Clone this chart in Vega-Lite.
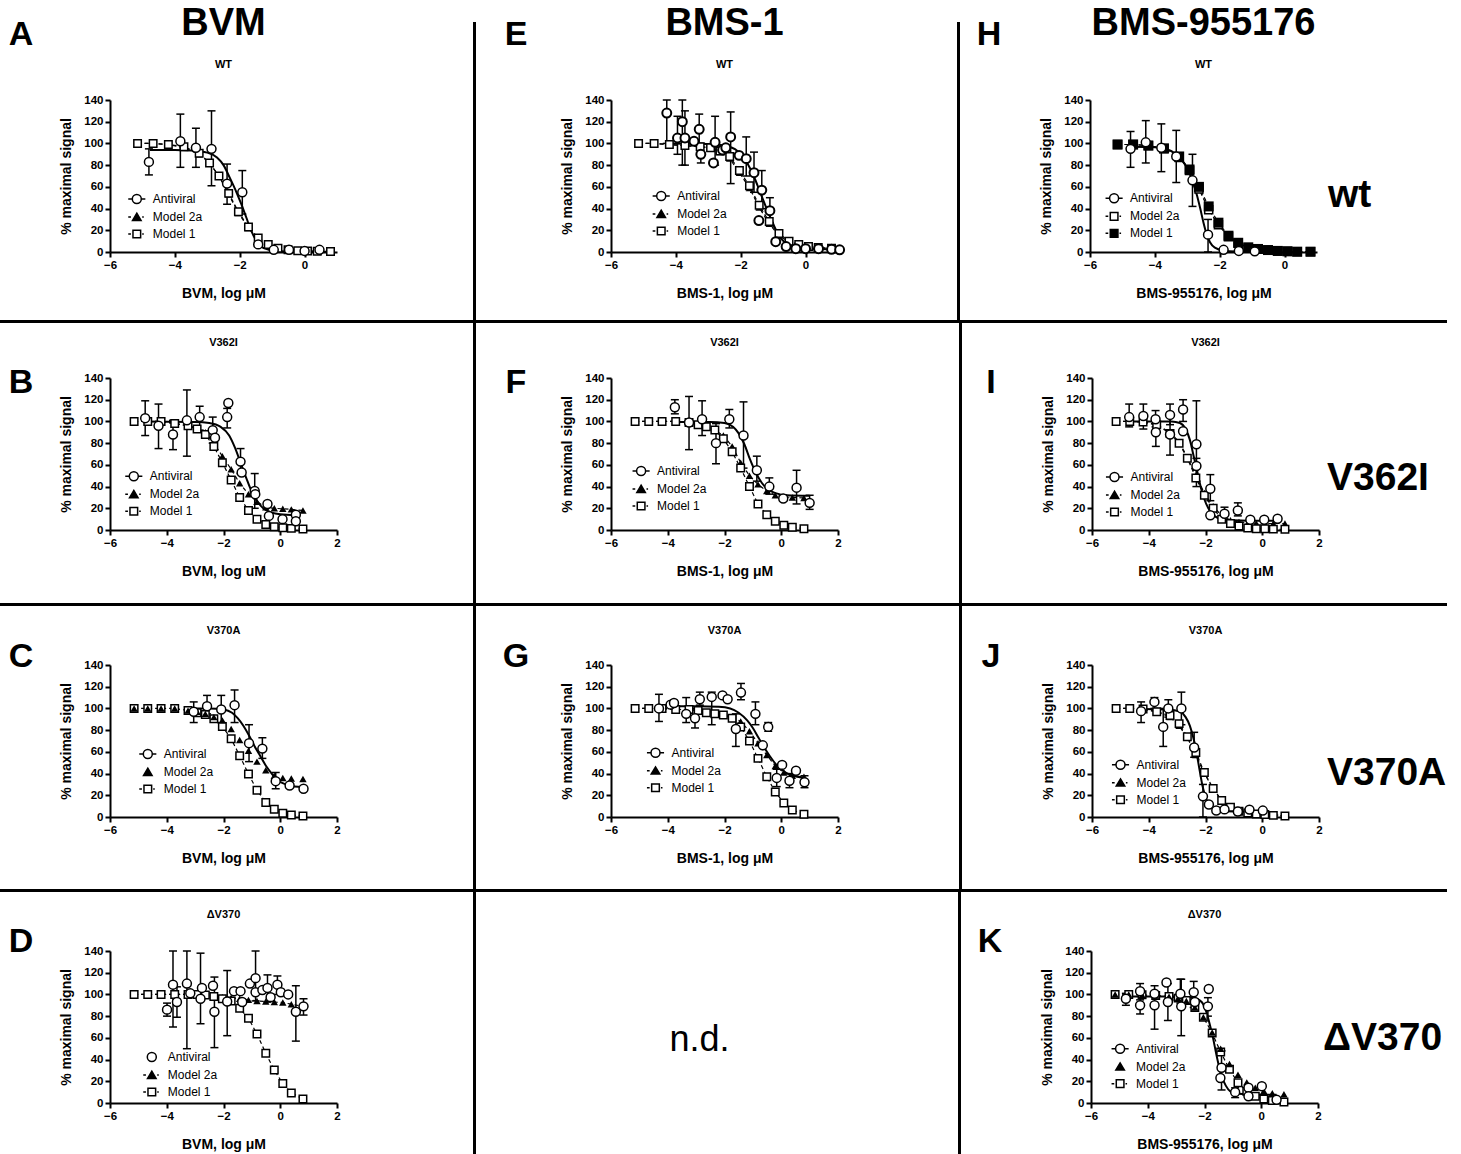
{
"padding":0,
"spacing":0,
"resolve":{"scale":{"shape":"independent","fill":"independent"},"legend":{"shape":"independent","fill":"independent"}},
"config":{"view":{"stroke":null},
"axis":{"domainColor":"black","domainWidth":2,"tickColor":"black","tickWidth":2,"tickSize":5,"labelFont":"Liberation Sans","labelFontSize":11.5,"labelFontWeight":"bold","labelColor":"black","labelFlush":false,"titleFont":"Liberation Sans","titleFontSize":14,"titleFontWeight":"bold","titleColor":"black","grid":false},
"axisX":{"titlePadding":16},"axisY":{"titlePadding":10}},
"vconcat":[
{"hconcat":[
 {"hconcat":[
  {"vconcat":[{"width":1,"height":15,"data":{"values":[{}]},"mark":{"type":"text","text":"","fontSize":1},"encoding":{},"view":{"fill":"white","stroke":null}},{"width":42,"height":40,"data":{"values":[{"t":"A"}]},"mark":{"type":"text","fontSize":34,"fontWeight":"bold","color":"black","font":"Liberation Sans"},"encoding":{"text":{"field":"t"}},"view":{"fill":"white","stroke":null}}],"spacing":0},
  {"vconcat":[{"width":1,"height":4,"data":{"values":[{}]},"mark":{"type":"text","text":"","fontSize":1},"encoding":{},"view":{"fill":"white","stroke":null}},
   {"width":227,"height":152,"title":{"text":"BVM","subtitle":"WT","frame":"group","fontSize":38,"fontWeight":"bold","font":"Liberation Sans","color":"black","subtitleFontSize":11,"subtitleFontWeight":"bold","subtitleFont":"Liberation Sans","subtitleColor":"black","subtitlePadding":16,"offset":24.5},
    "data":{"values":[
{"s":"M1","x":-5.15,"y":100},{"s":"M1","x":-4.67,"y":100},{"s":"M1","x":-4.2,"y":99},{"s":"M1","x":-3.72,"y":97},{"s":"M1","x":-3.25,"y":91},{"s":"M1","x":-2.93,"y":82},{"s":"M1","x":-2.64,"y":70},{"s":"M1","x":-2.34,"y":54},{"s":"M1","x":-2.04,"y":37},{"s":"M1","x":-1.73,"y":23},{"s":"M1","x":-1.43,"y":13},{"s":"M1","x":-1.12,"y":7},{"s":"M1","x":-0.82,"y":3.5},{"s":"M1","x":-0.51,"y":2},{"s":"M1","x":-0.21,"y":1.2},{"s":"M1","x":0.09,"y":1},{"s":"M1","x":0.39,"y":0.6},{"s":"M1","x":0.8,"y":0.5},
{"s":"M2","x":-5.15,"y":100},{"s":"M2","x":-4.67,"y":100},{"s":"M2","x":-4.2,"y":99},{"s":"M2","x":-3.72,"y":96},{"s":"M2","x":-3.25,"y":90},{"s":"M2","x":-2.93,"y":82},{"s":"M2","x":-2.64,"y":70},{"s":"M2","x":-2.34,"y":53},{"s":"M2","x":-2.04,"y":36},{"s":"M2","x":-1.73,"y":22},{"s":"M2","x":-1.43,"y":12},{"s":"M2","x":-1.12,"y":6},{"s":"M2","x":-0.82,"y":3.5},{"s":"M2","x":-0.51,"y":2},{"s":"M2","x":-0.21,"y":1.5},{"s":"M2","x":0.09,"y":1},{"s":"M2","x":0.39,"y":0.8},{"s":"M2","x":0.8,"y":0.5},
{"s":"AV","x":-4.8,"y":83,"lo":71,"hi":95},{"s":"AV","x":-3.83,"y":102,"lo":78,"hi":127},{"s":"AV","x":-3.35,"y":96,"lo":78,"hi":114},{"s":"AV","x":-2.87,"y":95,"lo":61,"hi":130},{"s":"AV","x":-2.39,"y":63,"lo":44,"hi":81},{"s":"AV","x":-1.92,"y":55,"lo":35,"hi":75},{"s":"AV","x":-1.43,"y":7},{"s":"AV","x":-0.95,"y":2},{"s":"AV","x":-0.48,"y":2},{"s":"AV","x":0,"y":1},{"s":"AV","x":0.46,"y":2},
{"s":"fit","x":-4.77,"y":94},{"s":"fit","x":-4,"y":94},{"s":"fit","x":-3.5,"y":93.5},{"s":"fit","x":-3,"y":91.5},{"s":"fit","x":-2.7,"y":87},{"s":"fit","x":-2.5,"y":80},{"s":"fit","x":-2.3,"y":68},{"s":"fit","x":-2.1,"y":55},{"s":"fit","x":-1.95,"y":44},{"s":"fit","x":-1.8,"y":32},{"s":"fit","x":-1.65,"y":20},{"s":"fit","x":-1.5,"y":11},{"s":"fit","x":-1.35,"y":5},{"s":"fit","x":-1.1,"y":2},{"s":"fit","x":-0.6,"y":0.5},{"s":"fit","x":0.8,"y":0.2}]},
    "encoding":{"x":{"field":"x","type":"quantitative","scale":{"domain":[-6,1],"nice":false},"axis":{"values":[-6,-4,-2,0],"title":"BVM, log μM"}},"y":{"field":"y","type":"quantitative","scale":{"domain":[0,140],"nice":false},"axis":{"values":[0,20,40,60,80,100,120,140],"title":"% maximal signal"}}},
    "layer":[
{"transform":[{"filter":"datum.s=='fit'"}],"mark":{"type":"line","color":"black","strokeWidth":2,"interpolate":"monotone"},"encoding":{}},
{"transform":[{"filter":"datum.s=='M2'"}],"mark":{"type":"line","color":"black","strokeWidth":1.2,"strokeDash":[4,3]},"encoding":{}},
{"transform":[{"filter":"datum.s=='M1'"}],"mark":{"type":"line","color":"black","strokeWidth":1.2,"strokeDash":[4,3]},"encoding":{}},
{"transform":[{"filter":"datum.s=='AV' && isValid(datum.lo)"}],"mark":{"type":"rule","color":"black","strokeWidth":1.5},"encoding":{"y":{"field":"lo","type":"quantitative","title":"% maximal signal"},"y2":{"field":"hi"}}},
{"transform":[{"filter":"datum.s=='AV' && isValid(datum.lo)"},{"fold":["lo","hi"],"as":["k","v"]}],"mark":{"type":"tick","orient":"horizontal","color":"black","size":8,"thickness":1.5,"opacity":1},"encoding":{"y":{"field":"v","type":"quantitative","title":"% maximal signal"}}},
{"transform":[{"filter":"datum.s=='M2'"}],"mark":{"type":"point","shape":"triangle-up","size":55,"filled":true,"color":"black","opacity":1},"encoding":{}},
{"transform":[{"filter":"datum.s=='M1'"}],"mark":{"type":"point","shape":"square","size":56,"filled":true,"fill":"white","stroke":"black","strokeWidth":1.5,"opacity":1},"encoding":{}},
{"transform":[{"filter":"datum.s=='AV'"}],"mark":{"type":"point","shape":"circle","size":80,"filled":true,"fill":"white","stroke":"black","strokeWidth":1.5,"opacity":1},"encoding":{}},
{"transform":[{"filter":"false"}],"mark":{"type":"point","filled":true,"stroke":"black","strokeWidth":1.5,"opacity":1},"encoding":{"shape":{"field":"s","type":"nominal","scale":{"domain":["Antiviral","Model 2a","Model 1"],"range":["M-1.9,0H-1M1,0H1.9M1,0A1,1,0,1,1,-1,0A1,1,0,1,1,1,0Z","M-1.9,0H-1.3M1.2,0H1.55M0,-0.85L0.95,0.75L-0.95,0.75Z","M-1.9,0H-1.3M1.2,0H1.55M-0.85,-0.85H0.85V0.85H-0.85Z"]},"legend":{"title":null,"orient":"none","legendX":20.8,"legendY":93,"symbolSize":81,"labelOffset":10,"rowPadding":3,"padding":0,"labelFontSize":12,"labelFont":"Liberation Sans","labelColor":"black"}},"fill":{"field":"s","type":"nominal","scale":{"domain":["Antiviral","Model 2a","Model 1"],"range":["white","black","white"]},"legend":{"title":null,"orient":"none","legendX":20.8,"legendY":93}}}}
    ]}
  ],"spacing":0,"resolve":{"scale":{"shape":"independent","fill":"independent"},"legend":{"shape":"independent","fill":"independent"}}}
 ],"spacing":17,"resolve":{"scale":{"shape":"independent","fill":"independent"},"legend":{"shape":"independent","fill":"independent"}}},
 {"hconcat":[
  {"vconcat":[{"width":1,"height":22,"data":{"values":[{}]},"mark":{"type":"text","text":"","fontSize":1},"encoding":{},"view":{"fill":"white","stroke":null}},{"width":3,"height":298,"data":{"values":[{}]},"mark":{"type":"text","text":"","fontSize":1},"encoding":{},"view":{"fill":"black","stroke":null}}],"spacing":0},
  {"hconcat":[
   {"hconcat":[
    {"vconcat":[{"width":1,"height":15,"data":{"values":[{}]},"mark":{"type":"text","text":"","fontSize":1},"encoding":{},"view":{"fill":"white","stroke":null}},{"width":30,"height":40,"data":{"values":[{"t":"E"}]},"mark":{"type":"text","fontSize":34,"fontWeight":"bold","color":"black","font":"Liberation Sans"},"encoding":{"text":{"field":"t"}},"view":{"fill":"white","stroke":null}}],"spacing":0},
    {"vconcat":[{"width":1,"height":4,"data":{"values":[{}]},"mark":{"type":"text","text":"","fontSize":1},"encoding":{},"view":{"fill":"white","stroke":null}},
     {"width":227,"height":152,"title":{"text":"BMS-1","subtitle":"WT","frame":"group","fontSize":38,"fontWeight":"bold","font":"Liberation Sans","color":"black","subtitleFontSize":11,"subtitleFontWeight":"bold","subtitleFont":"Liberation Sans","subtitleColor":"black","subtitlePadding":16,"offset":24.5},
      "data":{"values":[
{"s":"M1","x":-5.15,"y":100},{"s":"M1","x":-4.67,"y":100},{"s":"M1","x":-4.2,"y":99},{"s":"M1","x":-3.72,"y":98},{"s":"M1","x":-3.25,"y":97},{"s":"M1","x":-2.93,"y":96},{"s":"M1","x":-2.64,"y":93},{"s":"M1","x":-2.34,"y":88},{"s":"M1","x":-2.04,"y":75},{"s":"M1","x":-1.73,"y":61},{"s":"M1","x":-1.43,"y":43},{"s":"M1","x":-1.12,"y":28},{"s":"M1","x":-0.82,"y":17},{"s":"M1","x":-0.51,"y":10},{"s":"M1","x":-0.21,"y":7},{"s":"M1","x":0.09,"y":5},{"s":"M1","x":0.39,"y":4.2},{"s":"M1","x":0.8,"y":3.5},
{"s":"M2","x":-5.15,"y":100},{"s":"M2","x":-4.67,"y":100},{"s":"M2","x":-4.2,"y":99},{"s":"M2","x":-3.72,"y":98},{"s":"M2","x":-3.25,"y":97},{"s":"M2","x":-2.93,"y":96},{"s":"M2","x":-2.64,"y":92},{"s":"M2","x":-2.34,"y":86},{"s":"M2","x":-2.04,"y":73},{"s":"M2","x":-1.73,"y":59},{"s":"M2","x":-1.43,"y":41},{"s":"M2","x":-1.12,"y":26},{"s":"M2","x":-0.82,"y":15},{"s":"M2","x":-0.51,"y":9},{"s":"M2","x":-0.21,"y":6},{"s":"M2","x":0.09,"y":4.5},{"s":"M2","x":0.39,"y":3.5},{"s":"M2","x":0.8,"y":3},
{"s":"AV","x":-4.28,"y":128,"lo":100,"hi":140},{"s":"AV","x":-3.95,"y":105,"lo":90,"hi":125},{"s":"AV","x":-3.8,"y":120,"lo":80,"hi":140},{"s":"AV","x":-3.72,"y":105,"lo":80,"hi":130},{"s":"AV","x":-3.44,"y":102},{"s":"AV","x":-3.28,"y":113,"lo":100,"hi":127},{"s":"AV","x":-3.23,"y":90,"lo":82,"hi":100},{"s":"AV","x":-2.84,"y":82},{"s":"AV","x":-2.79,"y":101,"lo":80,"hi":125},{"s":"AV","x":-2.56,"y":94},{"s":"AV","x":-2.46,"y":96},{"s":"AV","x":-2.31,"y":106,"lo":63,"hi":129},{"s":"AV","x":-2.05,"y":89},{"s":"AV","x":-1.83,"y":86,"lo":70,"hi":106},{"s":"AV","x":-1.59,"y":73,"lo":55,"hi":92},{"s":"AV","x":-1.35,"y":57,"lo":40,"hi":75},{"s":"AV","x":-1.44,"y":29},{"s":"AV","x":-1.1,"y":38,"lo":27,"hi":50},{"s":"AV","x":-0.92,"y":9.5},{"s":"AV","x":-0.6,"y":5},{"s":"AV","x":-0.3,"y":3},{"s":"AV","x":0,"y":3},{"s":"AV","x":0.4,"y":3},{"s":"AV","x":0.8,"y":2.5},{"s":"AV","x":1.05,"y":2},
{"s":"fit","x":-4.28,"y":100},{"s":"fit","x":-3,"y":99.5},{"s":"fit","x":-2.5,"y":98},{"s":"fit","x":-2.1,"y":93},{"s":"fit","x":-1.8,"y":82},{"s":"fit","x":-1.6,"y":70},{"s":"fit","x":-1.4,"y":55},{"s":"fit","x":-1.2,"y":40},{"s":"fit","x":-1,"y":26},{"s":"fit","x":-0.8,"y":14},{"s":"fit","x":-0.6,"y":8},{"s":"fit","x":-0.3,"y":4.5},{"s":"fit","x":0,"y":3.3},{"s":"fit","x":1,"y":2.5}]},
      "encoding":{"x":{"field":"x","type":"quantitative","scale":{"domain":[-6,1],"nice":false},"axis":{"values":[-6,-4,-2,0],"title":"BMS-1, log μM"}},"y":{"field":"y","type":"quantitative","scale":{"domain":[0,140],"nice":false},"axis":{"values":[0,20,40,60,80,100,120,140],"title":"% maximal signal"}}},
      "layer":[
{"transform":[{"filter":"datum.s=='fit'"}],"mark":{"type":"line","color":"black","strokeWidth":2,"interpolate":"monotone"},"encoding":{}},
{"transform":[{"filter":"datum.s=='M2'"}],"mark":{"type":"line","color":"black","strokeWidth":1.2,"strokeDash":[4,3]},"encoding":{}},
{"transform":[{"filter":"datum.s=='M1'"}],"mark":{"type":"line","color":"black","strokeWidth":1.2,"strokeDash":[4,3]},"encoding":{}},
{"transform":[{"filter":"datum.s=='AV' && isValid(datum.lo)"}],"mark":{"type":"rule","color":"black","strokeWidth":1.5},"encoding":{"y":{"field":"lo","type":"quantitative","title":"% maximal signal"},"y2":{"field":"hi"}}},
{"transform":[{"filter":"datum.s=='AV' && isValid(datum.lo)"},{"fold":["lo","hi"],"as":["k","v"]}],"mark":{"type":"tick","orient":"horizontal","color":"black","size":8,"thickness":1.5,"opacity":1},"encoding":{"y":{"field":"v","type":"quantitative","title":"% maximal signal"}}},
{"transform":[{"filter":"datum.s=='M2'"}],"mark":{"type":"point","shape":"triangle-up","size":55,"filled":true,"color":"black","opacity":1},"encoding":{}},
{"transform":[{"filter":"datum.s=='M1'"}],"mark":{"type":"point","shape":"square","size":56,"filled":true,"fill":"white","stroke":"black","strokeWidth":1.5,"opacity":1},"encoding":{}},
{"transform":[{"filter":"datum.s=='AV'"}],"mark":{"type":"point","shape":"circle","size":80,"filled":true,"fill":"white","stroke":"black","strokeWidth":2,"opacity":1},"encoding":{}},
{"transform":[{"filter":"false"}],"mark":{"type":"point","filled":true,"stroke":"black","strokeWidth":1.5,"opacity":1},"encoding":{"shape":{"field":"s","type":"nominal","scale":{"domain":["Antiviral","Model 2a","Model 1"],"range":["M-1.9,0H-1M1,0H1.9M1,0A1,1,0,1,1,-1,0A1,1,0,1,1,1,0Z","M-1.9,0H-1.3M1.2,0H1.55M0,-0.85L0.95,0.75L-0.95,0.75Z","M-1.9,0H-1.3M1.2,0H1.55M-0.85,-0.85H0.85V0.85H-0.85Z"]},"legend":{"title":null,"orient":"none","legendX":44.2,"legendY":90,"symbolSize":81,"labelOffset":10,"rowPadding":3,"padding":0,"labelFontSize":12,"labelFont":"Liberation Sans","labelColor":"black"}},"fill":{"field":"s","type":"nominal","scale":{"domain":["Antiviral","Model 2a","Model 1"],"range":["white","black","white"]},"legend":{"title":null,"orient":"none","legendX":44.2,"legendY":90}}}}
      ]}
    ],"spacing":0,"resolve":{"scale":{"shape":"independent","fill":"independent"},"legend":{"shape":"independent","fill":"independent"}}}
   ],"spacing":29,"resolve":{"scale":{"shape":"independent","fill":"independent"},"legend":{"shape":"independent","fill":"independent"}}},
   {"hconcat":[
    {"vconcat":[{"width":1,"height":22,"data":{"values":[{}]},"mark":{"type":"text","text":"","fontSize":1},"encoding":{},"view":{"fill":"white","stroke":null}},{"width":3,"height":298,"data":{"values":[{}]},"mark":{"type":"text","text":"","fontSize":1},"encoding":{},"view":{"fill":"black","stroke":null}}],"spacing":0},
    {"hconcat":[
     {"vconcat":[{"width":1,"height":15,"data":{"values":[{}]},"mark":{"type":"text","text":"","fontSize":1},"encoding":{},"view":{"fill":"white","stroke":null}},{"width":30,"height":40,"data":{"values":[{"t":"H"}]},"mark":{"type":"text","fontSize":34,"fontWeight":"bold","color":"black","font":"Liberation Sans"},"encoding":{"text":{"field":"t"}},"view":{"fill":"white","stroke":null}}],"spacing":0},
     {"hconcat":[
      {"vconcat":[{"width":1,"height":4,"data":{"values":[{}]},"mark":{"type":"text","text":"","fontSize":1},"encoding":{},"view":{"fill":"white","stroke":null}},
       {"width":227,"height":152,"title":{"text":"BMS-955176","subtitle":"WT","frame":"group","fontSize":38,"fontWeight":"bold","font":"Liberation Sans","color":"black","subtitleFontSize":11,"subtitleFontWeight":"bold","subtitleFont":"Liberation Sans","subtitleColor":"black","subtitlePadding":16,"offset":24.5},
        "data":{"values":[
{"s":"M2","x":-5.15,"y":99},{"s":"M2","x":-4.67,"y":99},{"s":"M2","x":-4.2,"y":98},{"s":"M2","x":-3.72,"y":95},{"s":"M2","x":-3.25,"y":87},{"s":"M2","x":-2.93,"y":75},{"s":"M2","x":-2.64,"y":58},{"s":"M2","x":-2.34,"y":39},{"s":"M2","x":-2.04,"y":25},{"s":"M2","x":-1.73,"y":14},{"s":"M2","x":-1.43,"y":8},{"s":"M2","x":-1.12,"y":4},{"s":"M2","x":-0.82,"y":2.6},{"s":"M2","x":-0.51,"y":1.7},{"s":"M2","x":-0.21,"y":1},{"s":"M2","x":0.09,"y":0.6},{"s":"M2","x":0.39,"y":0.3},{"s":"M2","x":0.8,"y":0.3},
{"s":"M1","x":-5.15,"y":99},{"s":"M1","x":-4.67,"y":99},{"s":"M1","x":-4.2,"y":98},{"s":"M1","x":-3.72,"y":95.5},{"s":"M1","x":-3.25,"y":88},{"s":"M1","x":-2.93,"y":76},{"s":"M1","x":-2.64,"y":60},{"s":"M1","x":-2.34,"y":42},{"s":"M1","x":-2.04,"y":27},{"s":"M1","x":-1.73,"y":15},{"s":"M1","x":-1.43,"y":8.5},{"s":"M1","x":-1.12,"y":4.3},{"s":"M1","x":-0.82,"y":2.8},{"s":"M1","x":-0.51,"y":1.8},{"s":"M1","x":-0.21,"y":1},{"s":"M1","x":0.09,"y":0.6},{"s":"M1","x":0.39,"y":0.3},{"s":"M1","x":0.8,"y":0.3},
{"s":"AV","x":-4.75,"y":95,"lo":78,"hi":111},{"s":"AV","x":-4.28,"y":101,"lo":82,"hi":121},{"s":"AV","x":-3.8,"y":96,"lo":74,"hi":118},{"s":"AV","x":-3.34,"y":88,"lo":64,"hi":112},{"s":"AV","x":-2.84,"y":66,"lo":42,"hi":90},{"s":"AV","x":-2.36,"y":16,"lo":0,"hi":30},{"s":"AV","x":-1.88,"y":2},{"s":"AV","x":-1.41,"y":1},{"s":"AV","x":-0.92,"y":0.6},
{"s":"fit","x":-4.75,"y":97},{"s":"fit","x":-4,"y":96.5},{"s":"fit","x":-3.5,"y":93},{"s":"fit","x":-3.2,"y":86},{"s":"fit","x":-3,"y":77},{"s":"fit","x":-2.85,"y":66},{"s":"fit","x":-2.7,"y":52},{"s":"fit","x":-2.6,"y":40},{"s":"fit","x":-2.5,"y":27},{"s":"fit","x":-2.4,"y":16},{"s":"fit","x":-2.3,"y":9},{"s":"fit","x":-2.15,"y":4},{"s":"fit","x":-1.9,"y":1.5},{"s":"fit","x":-1.5,"y":0.5},{"s":"fit","x":-0.92,"y":0.3}]},
        "encoding":{"x":{"field":"x","type":"quantitative","scale":{"domain":[-6,1],"nice":false},"axis":{"values":[-6,-4,-2,0],"title":"BMS-955176, log μM"}},"y":{"field":"y","type":"quantitative","scale":{"domain":[0,140],"nice":false},"axis":{"values":[0,20,40,60,80,100,120,140],"title":"% maximal signal"}}},
        "layer":[
{"transform":[{"filter":"datum.s=='fit'"}],"mark":{"type":"line","color":"black","strokeWidth":2,"interpolate":"monotone"},"encoding":{}},
{"transform":[{"filter":"datum.s=='M2'"}],"mark":{"type":"line","color":"black","strokeWidth":1.2,"strokeDash":[4,3]},"encoding":{}},
{"transform":[{"filter":"datum.s=='M1'"}],"mark":{"type":"line","color":"black","strokeWidth":1.2,"strokeDash":[4,3]},"encoding":{}},
{"transform":[{"filter":"datum.s=='AV' && isValid(datum.lo)"}],"mark":{"type":"rule","color":"black","strokeWidth":1.5},"encoding":{"y":{"field":"lo","type":"quantitative","title":"% maximal signal"},"y2":{"field":"hi"}}},
{"transform":[{"filter":"datum.s=='AV' && isValid(datum.lo)"},{"fold":["lo","hi"],"as":["k","v"]}],"mark":{"type":"tick","orient":"horizontal","color":"black","size":8,"thickness":1.5,"opacity":1},"encoding":{"y":{"field":"v","type":"quantitative","title":"% maximal signal"}}},
{"transform":[{"filter":"datum.s=='M2'"}],"mark":{"type":"point","shape":"square","size":64,"filled":true,"fill":"white","stroke":"black","strokeWidth":1.5,"opacity":1},"encoding":{}},
{"transform":[{"filter":"datum.s=='M1'"}],"mark":{"type":"point","shape":"square","size":100,"filled":true,"color":"black","opacity":1},"encoding":{}},
{"transform":[{"filter":"datum.s=='AV'"}],"mark":{"type":"point","shape":"circle","size":80,"filled":true,"fill":"white","stroke":"black","strokeWidth":1.5,"opacity":1},"encoding":{}},
{"transform":[{"filter":"false"}],"mark":{"type":"point","filled":true,"stroke":"black","strokeWidth":1.5,"opacity":1},"encoding":{"shape":{"field":"s","type":"nominal","scale":{"domain":["Antiviral","Model 2a","Model 1"],"range":["M-1.9,0H-1M1,0H1.9M1,0A1,1,0,1,1,-1,0A1,1,0,1,1,1,0Z","M-1.9,0H-1.3M1.2,0H1.55M-0.85,-0.85H0.85V0.85H-0.85Z","M-1.9,0H-1.3M1.2,0H1.55M-0.85,-0.85H0.85V0.85H-0.85Z"]},"legend":{"title":null,"orient":"none","legendX":18.1,"legendY":92.3,"symbolSize":81,"labelOffset":10,"rowPadding":3,"padding":0,"labelFontSize":12,"labelFont":"Liberation Sans","labelColor":"black"}},"fill":{"field":"s","type":"nominal","scale":{"domain":["Antiviral","Model 2a","Model 1"],"range":["white","white","black"]},"legend":{"title":null,"orient":"none","legendX":18.1,"legendY":92.3}}}}
        ]}
      ],"spacing":0,"resolve":{"scale":{"shape":"independent","fill":"independent"},"legend":{"shape":"independent","fill":"independent"}}},
      {"vconcat":[{"width":1,"height":170,"data":{"values":[{}]},"mark":{"type":"text","text":"","fontSize":1},"encoding":{},"view":{"fill":"white","stroke":null}},
       {"width":2,"height":50,"data":{"values":[{"t":"wt"}]},"mark":{"type":"text","fontSize":39,"fontWeight":"bold","color":"black","align":"left","font":"Liberation Sans"},"encoding":{"text":{"field":"t"}},"view":{"fill":"white","stroke":null}}],"spacing":0}
     ],"spacing":9,"resolve":{"scale":{"shape":"independent","fill":"independent"},"legend":{"shape":"independent","fill":"independent"}}}
    ],"spacing":35,"resolve":{"scale":{"shape":"independent","fill":"independent"},"legend":{"shape":"independent","fill":"independent"}}}
   ],"spacing":14,"resolve":{"scale":{"shape":"independent","fill":"independent"},"legend":{"shape":"independent","fill":"independent"}}}
  ],"spacing":108,"resolve":{"scale":{"shape":"independent","fill":"independent"},"legend":{"shape":"independent","fill":"independent"}}}
 ],"spacing":25,"resolve":{"scale":{"shape":"independent","fill":"independent"},"legend":{"shape":"independent","fill":"independent"}}}
],"spacing":135,"resolve":{"scale":{"shape":"independent","fill":"independent"},"legend":{"shape":"independent","fill":"independent"}}},
{"width":1447,"height":3,"data":{"values":[{}]},"mark":{"type":"text","text":"","fontSize":1},"encoding":{},"view":{"fill":"black","stroke":null}},
{"hconcat":[
 {"hconcat":[
  {"vconcat":[{"width":1,"height":40,"data":{"values":[{}]},"mark":{"type":"text","text":"","fontSize":1},"encoding":{},"view":{"fill":"white","stroke":null}},{"width":42,"height":40,"data":{"values":[{"t":"B"}]},"mark":{"type":"text","fontSize":34,"fontWeight":"bold","color":"black","font":"Liberation Sans"},"encoding":{"text":{"field":"t"}},"view":{"fill":"white","stroke":null}}],"spacing":0},
  {"vconcat":[{"width":1,"height":14,"data":{"values":[{}]},"mark":{"type":"text","text":"","fontSize":1},"encoding":{},"view":{"fill":"white","stroke":null}},
   {"width":227,"height":152,"title":{"text":"V362I","frame":"group","fontSize":11,"fontWeight":"bold","font":"Liberation Sans","color":"black","offset":24},
    "data":{"values":[
{"s":"M1","x":-5.15,"y":100},{"s":"M1","x":-4.67,"y":100},{"s":"M1","x":-4.2,"y":100},{"s":"M1","x":-3.72,"y":98},{"s":"M1","x":-3.25,"y":96},{"s":"M1","x":-2.93,"y":93},{"s":"M1","x":-2.64,"y":88},{"s":"M1","x":-2.34,"y":77},{"s":"M1","x":-2.04,"y":62},{"s":"M1","x":-1.73,"y":46},{"s":"M1","x":-1.43,"y":30},{"s":"M1","x":-1.12,"y":18},{"s":"M1","x":-0.82,"y":10},{"s":"M1","x":-0.51,"y":5},{"s":"M1","x":-0.21,"y":3},{"s":"M1","x":0.09,"y":2},{"s":"M1","x":0.39,"y":1.5},{"s":"M1","x":0.8,"y":1},
{"s":"M2","x":-5.15,"y":100},{"s":"M2","x":-4.67,"y":100},{"s":"M2","x":-4.2,"y":100},{"s":"M2","x":-3.72,"y":98},{"s":"M2","x":-3.25,"y":96},{"s":"M2","x":-2.93,"y":94},{"s":"M2","x":-2.64,"y":90},{"s":"M2","x":-2.34,"y":80},{"s":"M2","x":-2.04,"y":68},{"s":"M2","x":-1.73,"y":56},{"s":"M2","x":-1.43,"y":43},{"s":"M2","x":-1.12,"y":33},{"s":"M2","x":-0.82,"y":26},{"s":"M2","x":-0.51,"y":21},{"s":"M2","x":-0.21,"y":20},{"s":"M2","x":0.09,"y":19.5},{"s":"M2","x":0.39,"y":19},{"s":"M2","x":0.8,"y":18},
{"s":"AV","x":-4.76,"y":103,"lo":87,"hi":119},{"s":"AV","x":-4.29,"y":96,"lo":75,"hi":116},{"s":"AV","x":-3.78,"y":88,"lo":74,"hi":101},{"s":"AV","x":-3.29,"y":101,"lo":68,"hi":129},{"s":"AV","x":-2.84,"y":104,"lo":92,"hi":114},{"s":"AV","x":-2.38,"y":92,"lo":80,"hi":104},{"s":"AV","x":-2.3,"y":85},{"s":"AV","x":-1.87,"y":104,"lo":94,"hi":112},{"s":"AV","x":-1.83,"y":117},{"s":"AV","x":-1.4,"y":63,"lo":52,"hi":75},{"s":"AV","x":-1.36,"y":53},{"s":"AV","x":-0.9,"y":36,"lo":20,"hi":52},{"s":"AV","x":-0.88,"y":33},{"s":"AV","x":-0.45,"y":24},{"s":"AV","x":-0.4,"y":13},{"s":"AV","x":0.08,"y":10},{"s":"AV","x":0.55,"y":14},{"s":"AV","x":0.55,"y":8},
{"s":"fit","x":-4.76,"y":100},{"s":"fit","x":-3,"y":99.5},{"s":"fit","x":-2.5,"y":98.5},{"s":"fit","x":-2.1,"y":95},{"s":"fit","x":-1.8,"y":87},{"s":"fit","x":-1.6,"y":76},{"s":"fit","x":-1.4,"y":62},{"s":"fit","x":-1.2,"y":48},{"s":"fit","x":-1,"y":35},{"s":"fit","x":-0.8,"y":26},{"s":"fit","x":-0.6,"y":20},{"s":"fit","x":-0.3,"y":16},{"s":"fit","x":0,"y":14.5},{"s":"fit","x":0.55,"y":13.7}]},
    "encoding":{"x":{"field":"x","type":"quantitative","scale":{"domain":[-6,2],"nice":false},"axis":{"values":[-6,-4,-2,0,2],"title":"BVM, log uM"}},"y":{"field":"y","type":"quantitative","scale":{"domain":[0,140],"nice":false},"axis":{"values":[0,20,40,60,80,100,120,140],"title":"% maximal signal"}}},
    "layer":[
{"transform":[{"filter":"datum.s=='fit'"}],"mark":{"type":"line","color":"black","strokeWidth":2,"interpolate":"monotone"},"encoding":{}},
{"transform":[{"filter":"datum.s=='M2'"}],"mark":{"type":"line","color":"black","strokeWidth":1.2,"strokeDash":[4,3]},"encoding":{}},
{"transform":[{"filter":"datum.s=='M1'"}],"mark":{"type":"line","color":"black","strokeWidth":1.2,"strokeDash":[4,3]},"encoding":{}},
{"transform":[{"filter":"datum.s=='AV' && isValid(datum.lo)"}],"mark":{"type":"rule","color":"black","strokeWidth":1.5},"encoding":{"y":{"field":"lo","type":"quantitative","title":"% maximal signal"},"y2":{"field":"hi"}}},
{"transform":[{"filter":"datum.s=='AV' && isValid(datum.lo)"},{"fold":["lo","hi"],"as":["k","v"]}],"mark":{"type":"tick","orient":"horizontal","color":"black","size":8,"thickness":1.5,"opacity":1},"encoding":{"y":{"field":"v","type":"quantitative","title":"% maximal signal"}}},
{"transform":[{"filter":"datum.s=='M2'"}],"mark":{"type":"point","shape":"triangle-up","size":55,"filled":true,"color":"black","opacity":1},"encoding":{}},
{"transform":[{"filter":"datum.s=='M1'"}],"mark":{"type":"point","shape":"square","size":56,"filled":true,"fill":"white","stroke":"black","strokeWidth":1.5,"opacity":1},"encoding":{}},
{"transform":[{"filter":"datum.s=='AV'"}],"mark":{"type":"point","shape":"circle","size":80,"filled":true,"fill":"white","stroke":"black","strokeWidth":1.5,"opacity":1},"encoding":{}},
{"transform":[{"filter":"false"}],"mark":{"type":"point","filled":true,"stroke":"black","strokeWidth":1.5,"opacity":1},"encoding":{"shape":{"field":"s","type":"nominal","scale":{"domain":["Antiviral","Model 2a","Model 1"],"range":["M-1.9,0H-1M1,0H1.9M1,0A1,1,0,1,1,-1,0A1,1,0,1,1,1,0Z","M-1.9,0H-1.3M1.2,0H1.55M0,-0.85L0.95,0.75L-0.95,0.75Z","M-1.9,0H-1.3M1.2,0H1.55M-0.85,-0.85H0.85V0.85H-0.85Z"]},"legend":{"title":null,"orient":"none","legendX":17.8,"legendY":92.3,"symbolSize":81,"labelOffset":10,"rowPadding":3,"padding":0,"labelFontSize":12,"labelFont":"Liberation Sans","labelColor":"black"}},"fill":{"field":"s","type":"nominal","scale":{"domain":["Antiviral","Model 2a","Model 1"],"range":["white","black","white"]},"legend":{"title":null,"orient":"none","legendX":17.8,"legendY":92.3}}}}
    ]}
  ],"spacing":0,"resolve":{"scale":{"shape":"independent","fill":"independent"},"legend":{"shape":"independent","fill":"independent"}}}
 ],"spacing":17,"resolve":{"scale":{"shape":"independent","fill":"independent"},"legend":{"shape":"independent","fill":"independent"}}},
 {"hconcat":[
  {"width":3,"height":280,"data":{"values":[{}]},"mark":{"type":"text","text":"","fontSize":1},"encoding":{},"view":{"fill":"black","stroke":null}},
  {"hconcat":[
   {"hconcat":[
    {"vconcat":[{"width":1,"height":40,"data":{"values":[{}]},"mark":{"type":"text","text":"","fontSize":1},"encoding":{},"view":{"fill":"white","stroke":null}},{"width":30,"height":40,"data":{"values":[{"t":"F"}]},"mark":{"type":"text","fontSize":34,"fontWeight":"bold","color":"black","font":"Liberation Sans"},"encoding":{"text":{"field":"t"}},"view":{"fill":"white","stroke":null}}],"spacing":0},
    {"vconcat":[{"width":1,"height":14,"data":{"values":[{}]},"mark":{"type":"text","text":"","fontSize":1},"encoding":{},"view":{"fill":"white","stroke":null}},
     {"width":227,"height":152,"title":{"text":"V362I","frame":"group","fontSize":11,"fontWeight":"bold","font":"Liberation Sans","color":"black","offset":24},
      "data":{"values":[
{"s":"M1","x":-5.15,"y":100},{"s":"M1","x":-4.67,"y":100},{"s":"M1","x":-4.2,"y":100},{"s":"M1","x":-3.72,"y":100},{"s":"M1","x":-3.25,"y":99},{"s":"M1","x":-2.93,"y":97},{"s":"M1","x":-2.64,"y":95},{"s":"M1","x":-2.34,"y":92},{"s":"M1","x":-2.04,"y":84},{"s":"M1","x":-1.73,"y":72},{"s":"M1","x":-1.43,"y":57},{"s":"M1","x":-1.12,"y":40},{"s":"M1","x":-0.82,"y":24},{"s":"M1","x":-0.51,"y":14},{"s":"M1","x":-0.21,"y":8},{"s":"M1","x":0.09,"y":4.3},{"s":"M1","x":0.39,"y":2.5},{"s":"M1","x":0.8,"y":1.2},
{"s":"M2","x":-5.15,"y":100},{"s":"M2","x":-4.67,"y":100},{"s":"M2","x":-4.2,"y":100},{"s":"M2","x":-3.72,"y":100},{"s":"M2","x":-3.25,"y":99},{"s":"M2","x":-2.93,"y":97.5},{"s":"M2","x":-2.64,"y":95},{"s":"M2","x":-2.34,"y":92},{"s":"M2","x":-2.04,"y":87},{"s":"M2","x":-1.73,"y":77},{"s":"M2","x":-1.43,"y":62},{"s":"M2","x":-1.12,"y":50},{"s":"M2","x":-0.82,"y":42},{"s":"M2","x":-0.51,"y":36},{"s":"M2","x":-0.21,"y":32},{"s":"M2","x":0.09,"y":30.5},{"s":"M2","x":0.39,"y":30},{"s":"M2","x":0.8,"y":29.5},
{"s":"AV","x":-3.75,"y":113,"lo":107,"hi":120},{"s":"AV","x":-3.25,"y":99,"lo":74,"hi":123},{"s":"AV","x":-2.79,"y":102,"lo":87,"hi":119},{"s":"AV","x":-2.3,"y":80,"lo":61,"hi":98},{"s":"AV","x":-1.83,"y":102,"lo":94,"hi":111},{"s":"AV","x":-1.33,"y":87,"lo":57,"hi":118},{"s":"AV","x":-0.86,"y":55,"lo":45,"hi":68},{"s":"AV","x":-0.42,"y":40,"lo":33,"hi":48},{"s":"AV","x":0.07,"y":29,"lo":27,"hi":32},{"s":"AV","x":0.54,"y":39,"lo":24,"hi":55},{"s":"AV","x":1,"y":25,"lo":19,"hi":32},
{"s":"fit","x":-3.75,"y":99.5},{"s":"fit","x":-2.5,"y":99.5},{"s":"fit","x":-2,"y":98.5},{"s":"fit","x":-1.7,"y":95},{"s":"fit","x":-1.5,"y":89},{"s":"fit","x":-1.3,"y":79},{"s":"fit","x":-1.1,"y":65},{"s":"fit","x":-0.9,"y":53},{"s":"fit","x":-0.7,"y":44},{"s":"fit","x":-0.5,"y":38},{"s":"fit","x":-0.2,"y":34},{"s":"fit","x":0.2,"y":32},{"s":"fit","x":1,"y":31.5}]},
      "encoding":{"x":{"field":"x","type":"quantitative","scale":{"domain":[-6,2],"nice":false},"axis":{"values":[-6,-4,-2,0,2],"title":"BMS-1, log μM"}},"y":{"field":"y","type":"quantitative","scale":{"domain":[0,140],"nice":false},"axis":{"values":[0,20,40,60,80,100,120,140],"title":"% maximal signal"}}},
      "layer":[
{"transform":[{"filter":"datum.s=='fit'"}],"mark":{"type":"line","color":"black","strokeWidth":2,"interpolate":"monotone"},"encoding":{}},
{"transform":[{"filter":"datum.s=='M2'"}],"mark":{"type":"line","color":"black","strokeWidth":1.2,"strokeDash":[4,3]},"encoding":{}},
{"transform":[{"filter":"datum.s=='M1'"}],"mark":{"type":"line","color":"black","strokeWidth":1.2,"strokeDash":[4,3]},"encoding":{}},
{"transform":[{"filter":"datum.s=='AV' && isValid(datum.lo)"}],"mark":{"type":"rule","color":"black","strokeWidth":1.5},"encoding":{"y":{"field":"lo","type":"quantitative","title":"% maximal signal"},"y2":{"field":"hi"}}},
{"transform":[{"filter":"datum.s=='AV' && isValid(datum.lo)"},{"fold":["lo","hi"],"as":["k","v"]}],"mark":{"type":"tick","orient":"horizontal","color":"black","size":8,"thickness":1.5,"opacity":1},"encoding":{"y":{"field":"v","type":"quantitative","title":"% maximal signal"}}},
{"transform":[{"filter":"datum.s=='M2'"}],"mark":{"type":"point","shape":"triangle-up","size":55,"filled":true,"color":"black","opacity":1},"encoding":{}},
{"transform":[{"filter":"datum.s=='M1'"}],"mark":{"type":"point","shape":"square","size":56,"filled":true,"fill":"white","stroke":"black","strokeWidth":1.5,"opacity":1},"encoding":{}},
{"transform":[{"filter":"datum.s=='AV'"}],"mark":{"type":"point","shape":"circle","size":80,"filled":true,"fill":"white","stroke":"black","strokeWidth":1.5,"opacity":1},"encoding":{}},
{"transform":[{"filter":"false"}],"mark":{"type":"point","filled":true,"stroke":"black","strokeWidth":1.5,"opacity":1},"encoding":{"shape":{"field":"s","type":"nominal","scale":{"domain":["Antiviral","Model 2a","Model 1"],"range":["M-1.9,0H-1M1,0H1.9M1,0A1,1,0,1,1,-1,0A1,1,0,1,1,1,0Z","M-1.9,0H-1.3M1.2,0H1.55M0,-0.85L0.95,0.75L-0.95,0.75Z","M-1.9,0H-1.3M1.2,0H1.55M-0.85,-0.85H0.85V0.85H-0.85Z"]},"legend":{"title":null,"orient":"none","legendX":24.1,"legendY":87,"symbolSize":81,"labelOffset":10,"rowPadding":3,"padding":0,"labelFontSize":12,"labelFont":"Liberation Sans","labelColor":"black"}},"fill":{"field":"s","type":"nominal","scale":{"domain":["Antiviral","Model 2a","Model 1"],"range":["white","black","white"]},"legend":{"title":null,"orient":"none","legendX":24.1,"legendY":87}}}}
      ]}
    ],"spacing":0,"resolve":{"scale":{"shape":"independent","fill":"independent"},"legend":{"shape":"independent","fill":"independent"}}}
   ],"spacing":29,"resolve":{"scale":{"shape":"independent","fill":"independent"},"legend":{"shape":"independent","fill":"independent"}}},
   {"hconcat":[
    {"width":3,"height":280,"data":{"values":[{}]},"mark":{"type":"text","text":"","fontSize":1},"encoding":{},"view":{"fill":"black","stroke":null}},
    {"hconcat":[
     {"vconcat":[{"width":1,"height":40,"data":{"values":[{}]},"mark":{"type":"text","text":"","fontSize":1},"encoding":{},"view":{"fill":"white","stroke":null}},{"width":30,"height":40,"data":{"values":[{"t":"I"}]},"mark":{"type":"text","fontSize":34,"fontWeight":"bold","color":"black","font":"Liberation Sans"},"encoding":{"text":{"field":"t"}},"view":{"fill":"white","stroke":null}}],"spacing":0},
     {"hconcat":[
      {"vconcat":[{"width":1,"height":14,"data":{"values":[{}]},"mark":{"type":"text","text":"","fontSize":1},"encoding":{},"view":{"fill":"white","stroke":null}},
       {"width":227,"height":152,"title":{"text":"V362I","frame":"group","fontSize":11,"fontWeight":"bold","font":"Liberation Sans","color":"black","offset":24},
        "data":{"values":[
{"s":"M1","x":-5.15,"y":100},{"s":"M1","x":-4.67,"y":100},{"s":"M1","x":-4.2,"y":99.5},{"s":"M1","x":-3.72,"y":97},{"s":"M1","x":-3.25,"y":89},{"s":"M1","x":-2.93,"y":80},{"s":"M1","x":-2.64,"y":66},{"s":"M1","x":-2.34,"y":48},{"s":"M1","x":-2.04,"y":32},{"s":"M1","x":-1.73,"y":20},{"s":"M1","x":-1.43,"y":10},{"s":"M1","x":-1.12,"y":6},{"s":"M1","x":-0.82,"y":3.7},{"s":"M1","x":-0.51,"y":1.8},{"s":"M1","x":-0.21,"y":1.2},{"s":"M1","x":0.09,"y":1.2},{"s":"M1","x":0.39,"y":0.8},{"s":"M1","x":0.8,"y":0.6},
{"s":"M2","x":-5.15,"y":100},{"s":"M2","x":-4.67,"y":100},{"s":"M2","x":-4.2,"y":99.5},{"s":"M2","x":-3.72,"y":97},{"s":"M2","x":-3.25,"y":90},{"s":"M2","x":-2.93,"y":81},{"s":"M2","x":-2.64,"y":67},{"s":"M2","x":-2.34,"y":50},{"s":"M2","x":-2.04,"y":34},{"s":"M2","x":-1.73,"y":22},{"s":"M2","x":-1.43,"y":13},{"s":"M2","x":-1.12,"y":9},{"s":"M2","x":-0.82,"y":7.5},{"s":"M2","x":-0.51,"y":6.5},{"s":"M2","x":-0.21,"y":6},{"s":"M2","x":0.09,"y":6},{"s":"M2","x":0.39,"y":6},{"s":"M2","x":0.8,"y":6},
{"s":"AV","x":-4.69,"y":104,"lo":95,"hi":116},{"s":"AV","x":-4.19,"y":105,"lo":93,"hi":116},{"s":"AV","x":-3.76,"y":102,"lo":95,"hi":110},{"s":"AV","x":-3.75,"y":90,"lo":77,"hi":103},{"s":"AV","x":-3.25,"y":106,"lo":97,"hi":116},{"s":"AV","x":-3.25,"y":88,"lo":69,"hi":107},{"s":"AV","x":-2.79,"y":111,"lo":100,"hi":120},{"s":"AV","x":-2.79,"y":91},{"s":"AV","x":-2.32,"y":79,"lo":40,"hi":119},{"s":"AV","x":-2.32,"y":59,"lo":45,"hi":66},{"s":"AV","x":-1.83,"y":38,"lo":27,"hi":51},{"s":"AV","x":-1.83,"y":13.5},{"s":"AV","x":-1.33,"y":15,"lo":10,"hi":21},{"s":"AV","x":-0.86,"y":18,"lo":13,"hi":25},{"s":"AV","x":-0.42,"y":9.5},{"s":"AV","x":0.07,"y":9.5},{"s":"AV","x":0.54,"y":10.4},
{"s":"fit","x":-4.69,"y":100},{"s":"fit","x":-3.2,"y":100},{"s":"fit","x":-2.9,"y":98.5},{"s":"fit","x":-2.7,"y":93},{"s":"fit","x":-2.55,"y":83},{"s":"fit","x":-2.4,"y":66},{"s":"fit","x":-2.3,"y":55},{"s":"fit","x":-2.2,"y":43},{"s":"fit","x":-2.05,"y":29},{"s":"fit","x":-1.9,"y":20},{"s":"fit","x":-1.7,"y":13},{"s":"fit","x":-1.4,"y":10},{"s":"fit","x":-1,"y":9},{"s":"fit","x":0,"y":8.5},{"s":"fit","x":0.54,"y":8.5}]},
        "encoding":{"x":{"field":"x","type":"quantitative","scale":{"domain":[-6,2],"nice":false},"axis":{"values":[-6,-4,-2,0,2],"title":"BMS-955176, log μM"}},"y":{"field":"y","type":"quantitative","scale":{"domain":[0,140],"nice":false},"axis":{"values":[0,20,40,60,80,100,120,140],"title":"% maximal signal"}}},
        "layer":[
{"transform":[{"filter":"datum.s=='fit'"}],"mark":{"type":"line","color":"black","strokeWidth":2,"interpolate":"monotone"},"encoding":{}},
{"transform":[{"filter":"datum.s=='M2'"}],"mark":{"type":"line","color":"black","strokeWidth":1.2,"strokeDash":[4,3]},"encoding":{}},
{"transform":[{"filter":"datum.s=='M1'"}],"mark":{"type":"line","color":"black","strokeWidth":1.2,"strokeDash":[4,3]},"encoding":{}},
{"transform":[{"filter":"datum.s=='AV' && isValid(datum.lo)"}],"mark":{"type":"rule","color":"black","strokeWidth":1.5},"encoding":{"y":{"field":"lo","type":"quantitative","title":"% maximal signal"},"y2":{"field":"hi"}}},
{"transform":[{"filter":"datum.s=='AV' && isValid(datum.lo)"},{"fold":["lo","hi"],"as":["k","v"]}],"mark":{"type":"tick","orient":"horizontal","color":"black","size":8,"thickness":1.5,"opacity":1},"encoding":{"y":{"field":"v","type":"quantitative","title":"% maximal signal"}}},
{"transform":[{"filter":"datum.s=='M2'"}],"mark":{"type":"point","shape":"triangle-up","size":55,"filled":true,"color":"black","opacity":1},"encoding":{}},
{"transform":[{"filter":"datum.s=='M1'"}],"mark":{"type":"point","shape":"square","size":56,"filled":true,"fill":"white","stroke":"black","strokeWidth":1.5,"opacity":1},"encoding":{}},
{"transform":[{"filter":"datum.s=='AV'"}],"mark":{"type":"point","shape":"circle","size":80,"filled":true,"fill":"white","stroke":"black","strokeWidth":1.5,"opacity":1},"encoding":{}},
{"transform":[{"filter":"false"}],"mark":{"type":"point","filled":true,"stroke":"black","strokeWidth":1.5,"opacity":1},"encoding":{"shape":{"field":"s","type":"nominal","scale":{"domain":["Antiviral","Model 2a","Model 1"],"range":["M-1.9,0H-1M1,0H1.9M1,0A1,1,0,1,1,-1,0A1,1,0,1,1,1,0Z","M-1.9,0H-1.3M1.2,0H1.55M0,-0.85L0.95,0.75L-0.95,0.75Z","M-1.9,0H-1.3M1.2,0H1.55M-0.85,-0.85H0.85V0.85H-0.85Z"]},"legend":{"title":null,"orient":"none","legendX":16.5,"legendY":93,"symbolSize":81,"labelOffset":10,"rowPadding":3,"padding":0,"labelFontSize":12,"labelFont":"Liberation Sans","labelColor":"black"}},"fill":{"field":"s","type":"nominal","scale":{"domain":["Antiviral","Model 2a","Model 1"],"range":["white","black","white"]},"legend":{"title":null,"orient":"none","legendX":16.5,"legendY":93}}}}
        ]}
      ],"spacing":0,"resolve":{"scale":{"shape":"independent","fill":"independent"},"legend":{"shape":"independent","fill":"independent"}}},
      {"vconcat":[{"width":1,"height":130,"data":{"values":[{}]},"mark":{"type":"text","text":"","fontSize":1},"encoding":{},"view":{"fill":"white","stroke":null}},
       {"width":2,"height":50,"data":{"values":[{"t":"V362I"}]},"mark":{"type":"text","fontSize":39,"fontWeight":"bold","color":"black","align":"left","font":"Liberation Sans"},"encoding":{"text":{"field":"t"}},"view":{"fill":"white","stroke":null}}],"spacing":0}
     ],"spacing":3,"resolve":{"scale":{"shape":"independent","fill":"independent"},"legend":{"shape":"independent","fill":"independent"}}}
    ],"spacing":35,"resolve":{"scale":{"shape":"independent","fill":"independent"},"legend":{"shape":"independent","fill":"independent"}}}
   ],"spacing":14,"resolve":{"scale":{"shape":"independent","fill":"independent"},"legend":{"shape":"independent","fill":"independent"}}}
  ],"spacing":117,"resolve":{"scale":{"shape":"independent","fill":"independent"},"legend":{"shape":"independent","fill":"independent"}}}
 ],"spacing":25,"resolve":{"scale":{"shape":"independent","fill":"independent"},"legend":{"shape":"independent","fill":"independent"}}}
],"spacing":132,"resolve":{"scale":{"shape":"independent","fill":"independent"},"legend":{"shape":"independent","fill":"independent"}}},
{"width":1447,"height":3,"data":{"values":[{}]},"mark":{"type":"text","text":"","fontSize":1},"encoding":{},"view":{"fill":"black","stroke":null}},
{"hconcat":[
 {"hconcat":[
  {"vconcat":[{"width":1,"height":31,"data":{"values":[{}]},"mark":{"type":"text","text":"","fontSize":1},"encoding":{},"view":{"fill":"white","stroke":null}},{"width":42,"height":40,"data":{"values":[{"t":"C"}]},"mark":{"type":"text","fontSize":34,"fontWeight":"bold","color":"black","font":"Liberation Sans"},"encoding":{"text":{"field":"t"}},"view":{"fill":"white","stroke":null}}],"spacing":0},
  {"vconcat":[{"width":1,"height":19,"data":{"values":[{}]},"mark":{"type":"text","text":"","fontSize":1},"encoding":{},"view":{"fill":"white","stroke":null}},
   {"width":227,"height":152,"title":{"text":"V370A","frame":"group","fontSize":11,"fontWeight":"bold","font":"Liberation Sans","color":"black","offset":23},
    "data":{"values":[
{"s":"M1","x":-5.15,"y":100},{"s":"M1","x":-4.67,"y":100},{"s":"M1","x":-4.2,"y":100},{"s":"M1","x":-3.72,"y":100},{"s":"M1","x":-3.25,"y":98},{"s":"M1","x":-2.93,"y":96},{"s":"M1","x":-2.64,"y":94.5},{"s":"M1","x":-2.34,"y":90.5},{"s":"M1","x":-2.04,"y":83.4},{"s":"M1","x":-1.73,"y":72},{"s":"M1","x":-1.43,"y":56.5},{"s":"M1","x":-1.12,"y":39.6},{"s":"M1","x":-0.82,"y":24.7},{"s":"M1","x":-0.51,"y":13.3},{"s":"M1","x":-0.21,"y":7.1},{"s":"M1","x":0.09,"y":3.4},{"s":"M1","x":0.39,"y":1.9},{"s":"M1","x":0.8,"y":0.9},
{"s":"M2","x":-5.15,"y":100},{"s":"M2","x":-4.67,"y":100},{"s":"M2","x":-4.2,"y":100},{"s":"M2","x":-3.72,"y":100},{"s":"M2","x":-3.25,"y":98},{"s":"M2","x":-2.93,"y":97},{"s":"M2","x":-2.64,"y":95},{"s":"M2","x":-2.34,"y":92},{"s":"M2","x":-2.04,"y":89},{"s":"M2","x":-1.73,"y":81},{"s":"M2","x":-1.43,"y":71},{"s":"M2","x":-1.12,"y":61},{"s":"M2","x":-0.82,"y":51},{"s":"M2","x":-0.51,"y":43},{"s":"M2","x":-0.21,"y":38},{"s":"M2","x":0.09,"y":36},{"s":"M2","x":0.39,"y":35.5},{"s":"M2","x":0.8,"y":35},
{"s":"AV","x":-3.05,"y":97,"lo":87,"hi":106},{"s":"AV","x":-2.58,"y":102,"lo":95,"hi":112},{"s":"AV","x":-2.08,"y":99,"lo":87,"hi":112},{"s":"AV","x":-1.61,"y":103,"lo":87,"hi":117},{"s":"AV","x":-1.1,"y":68,"lo":51,"hi":85},{"s":"AV","x":-0.63,"y":63,"lo":54,"hi":73},{"s":"AV","x":-0.16,"y":33,"lo":26,"hi":41},{"s":"AV","x":0.33,"y":29},{"s":"AV","x":0.82,"y":26},
{"s":"fit","x":-3.05,"y":100},{"s":"fit","x":-2.5,"y":100},{"s":"fit","x":-2,"y":99},{"s":"fit","x":-1.7,"y":96},{"s":"fit","x":-1.5,"y":91},{"s":"fit","x":-1.3,"y":84},{"s":"fit","x":-1.1,"y":75},{"s":"fit","x":-0.9,"y":65},{"s":"fit","x":-0.7,"y":56},{"s":"fit","x":-0.5,"y":47},{"s":"fit","x":-0.3,"y":40},{"s":"fit","x":-0.1,"y":34},{"s":"fit","x":0.2,"y":30},{"s":"fit","x":0.5,"y":28},{"s":"fit","x":0.82,"y":27.5}]},
    "encoding":{"x":{"field":"x","type":"quantitative","scale":{"domain":[-6,2],"nice":false},"axis":{"values":[-6,-4,-2,0,2],"title":"BVM, log μM"}},"y":{"field":"y","type":"quantitative","scale":{"domain":[0,140],"nice":false},"axis":{"values":[0,20,40,60,80,100,120,140],"title":"% maximal signal"}}},
    "layer":[
{"transform":[{"filter":"datum.s=='fit'"}],"mark":{"type":"line","color":"black","strokeWidth":2,"interpolate":"monotone"},"encoding":{}},
{"transform":[{"filter":"datum.s=='M1'"}],"mark":{"type":"line","color":"black","strokeWidth":1.2,"strokeDash":[4,3]},"encoding":{}},
{"transform":[{"filter":"datum.s=='AV' && isValid(datum.lo)"}],"mark":{"type":"rule","color":"black","strokeWidth":1.5},"encoding":{"y":{"field":"lo","type":"quantitative","title":"% maximal signal"},"y2":{"field":"hi"}}},
{"transform":[{"filter":"datum.s=='AV' && isValid(datum.lo)"},{"fold":["lo","hi"],"as":["k","v"]}],"mark":{"type":"tick","orient":"horizontal","color":"black","size":8,"thickness":1.5,"opacity":1},"encoding":{"y":{"field":"v","type":"quantitative","title":"% maximal signal"}}},
{"transform":[{"filter":"datum.s=='M1'"}],"mark":{"type":"point","shape":"square","size":56,"filled":true,"fill":"white","stroke":"black","strokeWidth":1.5,"opacity":1},"encoding":{}},
{"transform":[{"filter":"datum.s=='M2'"}],"mark":{"type":"point","shape":"triangle-up","size":55,"filled":true,"color":"black","opacity":1},"encoding":{}},
{"transform":[{"filter":"datum.s=='AV'"}],"mark":{"type":"point","shape":"circle","size":80,"filled":true,"fill":"white","stroke":"black","strokeWidth":1.5,"opacity":1},"encoding":{}},
{"transform":[{"filter":"false"}],"mark":{"type":"point","filled":true,"stroke":"black","strokeWidth":1.5,"opacity":1},"encoding":{"shape":{"field":"s","type":"nominal","scale":{"domain":["Antiviral","Model 2a","Model 1"],"range":["M-1.9,0H-1M1,0H1.9M1,0A1,1,0,1,1,-1,0A1,1,0,1,1,1,0Z","M0,-0.85L0.95,0.75L-0.95,0.75Z","M-1.9,0H-1.3M1.2,0H1.55M-0.85,-0.85H0.85V0.85H-0.85Z"]},"legend":{"title":null,"orient":"none","legendX":31.8,"legendY":83,"symbolSize":81,"labelOffset":10,"rowPadding":3,"padding":0,"labelFontSize":12,"labelFont":"Liberation Sans","labelColor":"black"}},"fill":{"field":"s","type":"nominal","scale":{"domain":["Antiviral","Model 2a","Model 1"],"range":["white","black","white"]},"legend":{"title":null,"orient":"none","legendX":31.8,"legendY":83}}}}
    ]}
  ],"spacing":0,"resolve":{"scale":{"shape":"independent","fill":"independent"},"legend":{"shape":"independent","fill":"independent"}}}
 ],"spacing":17,"resolve":{"scale":{"shape":"independent","fill":"independent"},"legend":{"shape":"independent","fill":"independent"}}},
 {"hconcat":[
  {"width":3,"height":283,"data":{"values":[{}]},"mark":{"type":"text","text":"","fontSize":1},"encoding":{},"view":{"fill":"black","stroke":null}},
  {"hconcat":[
   {"hconcat":[
    {"vconcat":[{"width":1,"height":31,"data":{"values":[{}]},"mark":{"type":"text","text":"","fontSize":1},"encoding":{},"view":{"fill":"white","stroke":null}},{"width":30,"height":40,"data":{"values":[{"t":"G"}]},"mark":{"type":"text","fontSize":34,"fontWeight":"bold","color":"black","font":"Liberation Sans"},"encoding":{"text":{"field":"t"}},"view":{"fill":"white","stroke":null}}],"spacing":0},
    {"vconcat":[{"width":1,"height":19,"data":{"values":[{}]},"mark":{"type":"text","text":"","fontSize":1},"encoding":{},"view":{"fill":"white","stroke":null}},
     {"width":227,"height":152,"title":{"text":"V370A","frame":"group","fontSize":11,"fontWeight":"bold","font":"Liberation Sans","color":"black","offset":23},
      "data":{"values":[
{"s":"M1","x":-5.15,"y":100},{"s":"M1","x":-4.67,"y":100},{"s":"M1","x":-4.2,"y":100},{"s":"M1","x":-3.72,"y":99},{"s":"M1","x":-3.25,"y":99},{"s":"M1","x":-2.93,"y":98},{"s":"M1","x":-2.64,"y":96},{"s":"M1","x":-2.34,"y":95},{"s":"M1","x":-2.04,"y":94},{"s":"M1","x":-1.73,"y":91},{"s":"M1","x":-1.43,"y":83},{"s":"M1","x":-1.12,"y":70},{"s":"M1","x":-0.82,"y":54},{"s":"M1","x":-0.51,"y":37},{"s":"M1","x":-0.21,"y":23},{"s":"M1","x":0.09,"y":13},{"s":"M1","x":0.39,"y":6.5},{"s":"M1","x":0.8,"y":2.5},
{"s":"M2","x":-5.15,"y":100},{"s":"M2","x":-4.67,"y":100},{"s":"M2","x":-4.2,"y":100},{"s":"M2","x":-3.72,"y":99},{"s":"M2","x":-3.25,"y":99},{"s":"M2","x":-2.93,"y":98},{"s":"M2","x":-2.64,"y":96},{"s":"M2","x":-2.34,"y":95},{"s":"M2","x":-2.04,"y":94},{"s":"M2","x":-1.73,"y":92},{"s":"M2","x":-1.43,"y":88},{"s":"M2","x":-1.12,"y":79},{"s":"M2","x":-0.82,"y":68},{"s":"M2","x":-0.51,"y":57},{"s":"M2","x":-0.21,"y":47},{"s":"M2","x":0.09,"y":41},{"s":"M2","x":0.39,"y":38},{"s":"M2","x":0.8,"y":37},
{"s":"AV","x":-4.31,"y":100,"lo":88,"hi":113},{"s":"AV","x":-3.9,"y":103.5},{"s":"AV","x":-3.78,"y":105},{"s":"AV","x":-3.35,"y":95,"lo":87,"hi":110},{"s":"AV","x":-3.04,"y":91,"lo":82,"hi":100},{"s":"AV","x":-2.87,"y":108.5,"lo":103,"hi":115},{"s":"AV","x":-2.45,"y":110.6,"lo":85,"hi":115},{"s":"AV","x":-2.07,"y":112},{"s":"AV","x":-1.89,"y":108.5},{"s":"AV","x":-1.6,"y":81,"lo":65,"hi":95},{"s":"AV","x":-1.42,"y":114.6,"lo":108,"hi":123},{"s":"AV","x":-0.91,"y":95,"lo":85,"hi":106},{"s":"AV","x":-0.65,"y":66},{"s":"AV","x":-0.46,"y":83,"lo":79,"hi":87},{"s":"AV","x":-0.16,"y":36,"lo":28,"hi":44},{"s":"AV","x":0.03,"y":48},{"s":"AV","x":0.29,"y":33.4,"lo":27,"hi":40},{"s":"AV","x":0.52,"y":42.6},{"s":"AV","x":0.82,"y":32,"lo":27,"hi":38},
{"s":"fit","x":-4.31,"y":102},{"s":"fit","x":-3,"y":102},{"s":"fit","x":-2.2,"y":101.5},{"s":"fit","x":-1.8,"y":100},{"s":"fit","x":-1.5,"y":96},{"s":"fit","x":-1.2,"y":89},{"s":"fit","x":-1,"y":82},{"s":"fit","x":-0.8,"y":73},{"s":"fit","x":-0.6,"y":64},{"s":"fit","x":-0.4,"y":56},{"s":"fit","x":-0.2,"y":49},{"s":"fit","x":0,"y":44},{"s":"fit","x":0.3,"y":39},{"s":"fit","x":0.82,"y":36}]},
      "encoding":{"x":{"field":"x","type":"quantitative","scale":{"domain":[-6,2],"nice":false},"axis":{"values":[-6,-4,-2,0,2],"title":"BMS-1, log μM"}},"y":{"field":"y","type":"quantitative","scale":{"domain":[0,140],"nice":false},"axis":{"values":[0,20,40,60,80,100,120,140],"title":"% maximal signal"}}},
      "layer":[
{"transform":[{"filter":"datum.s=='fit'"}],"mark":{"type":"line","color":"black","strokeWidth":2,"interpolate":"monotone"},"encoding":{}},
{"transform":[{"filter":"datum.s=='M2'"}],"mark":{"type":"line","color":"black","strokeWidth":1.2,"strokeDash":[4,3]},"encoding":{}},
{"transform":[{"filter":"datum.s=='M1'"}],"mark":{"type":"line","color":"black","strokeWidth":1.2,"strokeDash":[4,3]},"encoding":{}},
{"transform":[{"filter":"datum.s=='AV' && isValid(datum.lo)"}],"mark":{"type":"rule","color":"black","strokeWidth":1.5},"encoding":{"y":{"field":"lo","type":"quantitative","title":"% maximal signal"},"y2":{"field":"hi"}}},
{"transform":[{"filter":"datum.s=='AV' && isValid(datum.lo)"},{"fold":["lo","hi"],"as":["k","v"]}],"mark":{"type":"tick","orient":"horizontal","color":"black","size":8,"thickness":1.5,"opacity":1},"encoding":{"y":{"field":"v","type":"quantitative","title":"% maximal signal"}}},
{"transform":[{"filter":"datum.s=='M2'"}],"mark":{"type":"point","shape":"triangle-up","size":55,"filled":true,"color":"black","opacity":1},"encoding":{}},
{"transform":[{"filter":"datum.s=='M1'"}],"mark":{"type":"point","shape":"square","size":56,"filled":true,"fill":"white","stroke":"black","strokeWidth":1.5,"opacity":1},"encoding":{}},
{"transform":[{"filter":"datum.s=='AV'"}],"mark":{"type":"point","shape":"circle","size":80,"filled":true,"fill":"white","stroke":"black","strokeWidth":1.5,"opacity":1},"encoding":{}},
{"transform":[{"filter":"false"}],"mark":{"type":"point","filled":true,"stroke":"black","strokeWidth":1.5,"opacity":1},"encoding":{"shape":{"field":"s","type":"nominal","scale":{"domain":["Antiviral","Model 2a","Model 1"],"range":["M-1.9,0H-1M1,0H1.9M1,0A1,1,0,1,1,-1,0A1,1,0,1,1,1,0Z","M-1.9,0H-1.3M1.2,0H1.55M0,-0.85L0.95,0.75L-0.95,0.75Z","M-1.9,0H-1.3M1.2,0H1.55M-0.85,-0.85H0.85V0.85H-0.85Z"]},"legend":{"title":null,"orient":"none","legendX":38.5,"legendY":81.7,"symbolSize":81,"labelOffset":10,"rowPadding":3,"padding":0,"labelFontSize":12,"labelFont":"Liberation Sans","labelColor":"black"}},"fill":{"field":"s","type":"nominal","scale":{"domain":["Antiviral","Model 2a","Model 1"],"range":["white","black","white"]},"legend":{"title":null,"orient":"none","legendX":38.5,"legendY":81.7}}}}
      ]}
    ],"spacing":0,"resolve":{"scale":{"shape":"independent","fill":"independent"},"legend":{"shape":"independent","fill":"independent"}}}
   ],"spacing":29,"resolve":{"scale":{"shape":"independent","fill":"independent"},"legend":{"shape":"independent","fill":"independent"}}},
   {"hconcat":[
    {"width":3,"height":283,"data":{"values":[{}]},"mark":{"type":"text","text":"","fontSize":1},"encoding":{},"view":{"fill":"black","stroke":null}},
    {"hconcat":[
     {"vconcat":[{"width":1,"height":31,"data":{"values":[{}]},"mark":{"type":"text","text":"","fontSize":1},"encoding":{},"view":{"fill":"white","stroke":null}},{"width":30,"height":40,"data":{"values":[{"t":"J"}]},"mark":{"type":"text","fontSize":34,"fontWeight":"bold","color":"black","font":"Liberation Sans"},"encoding":{"text":{"field":"t"}},"view":{"fill":"white","stroke":null}}],"spacing":0},
     {"hconcat":[
      {"vconcat":[{"width":1,"height":19,"data":{"values":[{}]},"mark":{"type":"text","text":"","fontSize":1},"encoding":{},"view":{"fill":"white","stroke":null}},
       {"width":227,"height":152,"title":{"text":"V370A","frame":"group","fontSize":11,"fontWeight":"bold","font":"Liberation Sans","color":"black","offset":23},
        "data":{"values":[
{"s":"M1","x":-5.15,"y":100},{"s":"M1","x":-4.67,"y":100},{"s":"M1","x":-4.2,"y":99.5},{"s":"M1","x":-3.72,"y":97},{"s":"M1","x":-3.25,"y":93.5},{"s":"M1","x":-2.93,"y":86},{"s":"M1","x":-2.64,"y":74},{"s":"M1","x":-2.34,"y":59.5},{"s":"M1","x":-2.04,"y":41},{"s":"M1","x":-1.73,"y":26.3},{"s":"M1","x":-1.43,"y":15.2},{"s":"M1","x":-1.12,"y":9},{"s":"M1","x":-0.82,"y":5.3},{"s":"M1","x":-0.51,"y":3.7},{"s":"M1","x":-0.21,"y":2.8},{"s":"M1","x":0.09,"y":2.2},{"s":"M1","x":0.39,"y":1.5},{"s":"M1","x":0.8,"y":0.9},
{"s":"M2","x":-5.15,"y":100},{"s":"M2","x":-4.67,"y":100},{"s":"M2","x":-4.2,"y":99.5},{"s":"M2","x":-3.72,"y":97},{"s":"M2","x":-3.25,"y":92},{"s":"M2","x":-2.93,"y":84},{"s":"M2","x":-2.64,"y":73},{"s":"M2","x":-2.34,"y":57},{"s":"M2","x":-2.04,"y":40},{"s":"M2","x":-1.73,"y":26},{"s":"M2","x":-1.43,"y":15},{"s":"M2","x":-1.12,"y":9},{"s":"M2","x":-0.82,"y":5.5},{"s":"M2","x":-0.51,"y":4},{"s":"M2","x":-0.21,"y":3},{"s":"M2","x":0.09,"y":2.5},{"s":"M2","x":0.39,"y":2},{"s":"M2","x":0.8,"y":1.5},
{"s":"AV","x":-4.27,"y":97.5,"lo":87,"hi":106},{"s":"AV","x":-3.8,"y":106,"lo":100,"hi":110},{"s":"AV","x":-3.49,"y":83,"lo":65,"hi":100},{"s":"AV","x":-3.31,"y":100,"lo":92,"hi":108},{"s":"AV","x":-2.85,"y":100,"lo":85,"hi":115},{"s":"AV","x":-2.4,"y":64,"lo":55,"hi":78},{"s":"AV","x":-2.09,"y":19,"lo":0,"hi":30},{"s":"AV","x":-1.88,"y":11.5},{"s":"AV","x":-1.62,"y":6},{"s":"AV","x":-1.33,"y":7},{"s":"AV","x":-0.86,"y":5},{"s":"AV","x":-0.45,"y":6.8},{"s":"AV","x":0.02,"y":5.9},
{"s":"fit","x":-4.27,"y":99.5},{"s":"fit","x":-3.3,"y":99},{"s":"fit","x":-2.9,"y":97},{"s":"fit","x":-2.7,"y":92},{"s":"fit","x":-2.55,"y":84},{"s":"fit","x":-2.4,"y":70},{"s":"fit","x":-2.3,"y":57},{"s":"fit","x":-2.2,"y":42},{"s":"fit","x":-2.1,"y":28},{"s":"fit","x":-1.95,"y":15},{"s":"fit","x":-1.8,"y":9},{"s":"fit","x":-1.5,"y":6},{"s":"fit","x":-1,"y":5},{"s":"fit","x":0.02,"y":4.7}]},
        "encoding":{"x":{"field":"x","type":"quantitative","scale":{"domain":[-6,2],"nice":false},"axis":{"values":[-6,-4,-2,0,2],"title":"BMS-955176, log μM"}},"y":{"field":"y","type":"quantitative","scale":{"domain":[0,140],"nice":false},"axis":{"values":[0,20,40,60,80,100,120,140],"title":"% maximal signal"}}},
        "layer":[
{"transform":[{"filter":"datum.s=='fit'"}],"mark":{"type":"line","color":"black","strokeWidth":2,"interpolate":"monotone"},"encoding":{}},
{"transform":[{"filter":"datum.s=='M2'"}],"mark":{"type":"line","color":"black","strokeWidth":1.2,"strokeDash":[4,3]},"encoding":{}},
{"transform":[{"filter":"datum.s=='M1'"}],"mark":{"type":"line","color":"black","strokeWidth":1.2,"strokeDash":[4,3]},"encoding":{}},
{"transform":[{"filter":"datum.s=='AV' && isValid(datum.lo)"}],"mark":{"type":"rule","color":"black","strokeWidth":1.5},"encoding":{"y":{"field":"lo","type":"quantitative","title":"% maximal signal"},"y2":{"field":"hi"}}},
{"transform":[{"filter":"datum.s=='AV' && isValid(datum.lo)"},{"fold":["lo","hi"],"as":["k","v"]}],"mark":{"type":"tick","orient":"horizontal","color":"black","size":8,"thickness":1.5,"opacity":1},"encoding":{"y":{"field":"v","type":"quantitative","title":"% maximal signal"}}},
{"transform":[{"filter":"datum.s=='M2'"}],"mark":{"type":"point","shape":"triangle-up","size":55,"filled":true,"color":"black","opacity":1},"encoding":{}},
{"transform":[{"filter":"datum.s=='M1'"}],"mark":{"type":"point","shape":"square","size":56,"filled":true,"fill":"white","stroke":"black","strokeWidth":1.5,"opacity":1},"encoding":{}},
{"transform":[{"filter":"datum.s=='AV'"}],"mark":{"type":"point","shape":"circle","size":80,"filled":true,"fill":"white","stroke":"black","strokeWidth":1.5,"opacity":1},"encoding":{}},
{"transform":[{"filter":"false"}],"mark":{"type":"point","filled":true,"stroke":"black","strokeWidth":1.5,"opacity":1},"encoding":{"shape":{"field":"s","type":"nominal","scale":{"domain":["Antiviral","Model 2a","Model 1"],"range":["M-1.9,0H-1M1,0H1.9M1,0A1,1,0,1,1,-1,0A1,1,0,1,1,1,0Z","M-1.9,0H-1.3M1.2,0H1.55M0,-0.85L0.95,0.75L-0.95,0.75Z","M-1.9,0H-1.3M1.2,0H1.55M-0.85,-0.85H0.85V0.85H-0.85Z"]},"legend":{"title":null,"orient":"none","legendX":22.5,"legendY":93.7,"symbolSize":81,"labelOffset":10,"rowPadding":3,"padding":0,"labelFontSize":12,"labelFont":"Liberation Sans","labelColor":"black"}},"fill":{"field":"s","type":"nominal","scale":{"domain":["Antiviral","Model 2a","Model 1"],"range":["white","black","white"]},"legend":{"title":null,"orient":"none","legendX":22.5,"legendY":93.7}}}}
        ]}
      ],"spacing":0,"resolve":{"scale":{"shape":"independent","fill":"independent"},"legend":{"shape":"independent","fill":"independent"}}},
      {"vconcat":[{"width":1,"height":142,"data":{"values":[{}]},"mark":{"type":"text","text":"","fontSize":1},"encoding":{},"view":{"fill":"white","stroke":null}},
       {"width":2,"height":50,"data":{"values":[{"t":"V370A"}]},"mark":{"type":"text","fontSize":39,"fontWeight":"bold","color":"black","align":"left","font":"Liberation Sans"},"encoding":{"text":{"field":"t"}},"view":{"fill":"white","stroke":null}}],"spacing":0}
     ],"spacing":3,"resolve":{"scale":{"shape":"independent","fill":"independent"},"legend":{"shape":"independent","fill":"independent"}}}
    ],"spacing":35,"resolve":{"scale":{"shape":"independent","fill":"independent"},"legend":{"shape":"independent","fill":"independent"}}}
   ],"spacing":14,"resolve":{"scale":{"shape":"independent","fill":"independent"},"legend":{"shape":"independent","fill":"independent"}}}
  ],"spacing":117,"resolve":{"scale":{"shape":"independent","fill":"independent"},"legend":{"shape":"independent","fill":"independent"}}}
 ],"spacing":25,"resolve":{"scale":{"shape":"independent","fill":"independent"},"legend":{"shape":"independent","fill":"independent"}}}
],"spacing":132,"resolve":{"scale":{"shape":"independent","fill":"independent"},"legend":{"shape":"independent","fill":"independent"}}},
{"width":1447,"height":3,"data":{"values":[{}]},"mark":{"type":"text","text":"","fontSize":1},"encoding":{},"view":{"fill":"black","stroke":null}},
{"hconcat":[
 {"hconcat":[
  {"vconcat":[{"width":1,"height":30,"data":{"values":[{}]},"mark":{"type":"text","text":"","fontSize":1},"encoding":{},"view":{"fill":"white","stroke":null}},{"width":42,"height":40,"data":{"values":[{"t":"D"}]},"mark":{"type":"text","fontSize":34,"fontWeight":"bold","color":"black","font":"Liberation Sans"},"encoding":{"text":{"field":"t"}},"view":{"fill":"white","stroke":null}}],"spacing":0},
  {"vconcat":[{"width":1,"height":17,"data":{"values":[{}]},"mark":{"type":"text","text":"","fontSize":1},"encoding":{},"view":{"fill":"white","stroke":null}},
   {"width":227,"height":152,"title":{"text":"ΔV370","frame":"group","fontSize":11,"fontWeight":"bold","font":"Liberation Sans","color":"black","offset":25},
    "data":{"values":[
{"s":"M1","x":-5.15,"y":100},{"s":"M1","x":-4.67,"y":100},{"s":"M1","x":-4.2,"y":100},{"s":"M1","x":-3.72,"y":100},{"s":"M1","x":-3.25,"y":100},{"s":"M1","x":-2.93,"y":100},{"s":"M1","x":-2.64,"y":99.5},{"s":"M1","x":-2.34,"y":98},{"s":"M1","x":-2.04,"y":96},{"s":"M1","x":-1.73,"y":94},{"s":"M1","x":-1.43,"y":87.3},{"s":"M1","x":-1.12,"y":78},{"s":"M1","x":-0.82,"y":63.5},{"s":"M1","x":-0.51,"y":45.8},{"s":"M1","x":-0.21,"y":30.3},{"s":"M1","x":0.09,"y":18},{"s":"M1","x":0.39,"y":9.3},{"s":"M1","x":0.8,"y":3.7},
{"s":"M2","x":-5.15,"y":100},{"s":"M2","x":-4.67,"y":100},{"s":"M2","x":-4.2,"y":100},{"s":"M2","x":-3.72,"y":100},{"s":"M2","x":-3.25,"y":100},{"s":"M2","x":-2.93,"y":99.5},{"s":"M2","x":-2.64,"y":99},{"s":"M2","x":-2.34,"y":98.5},{"s":"M2","x":-2.04,"y":97.5},{"s":"M2","x":-1.73,"y":97},{"s":"M2","x":-1.43,"y":96},{"s":"M2","x":-1.12,"y":95},{"s":"M2","x":-0.82,"y":94},{"s":"M2","x":-0.51,"y":93.5},{"s":"M2","x":-0.21,"y":93},{"s":"M2","x":0.09,"y":92.5},{"s":"M2","x":0.39,"y":91},{"s":"M2","x":0.8,"y":89},
{"s":"AV","x":-3.99,"y":86,"lo":80,"hi":92},{"s":"AV","x":-3.78,"y":109,"lo":70,"hi":140},{"s":"AV","x":-3.64,"y":93,"lo":79,"hi":107},{"s":"AV","x":-3.29,"y":110,"lo":50,"hi":140},{"s":"AV","x":-3.17,"y":101},{"s":"AV","x":-2.81,"y":96,"lo":73,"hi":138},{"s":"AV","x":-2.76,"y":106},{"s":"AV","x":-2.37,"y":108},{"s":"AV","x":-2.32,"y":84,"lo":51,"hi":116},{"s":"AV","x":-1.87,"y":93.5,"lo":62,"hi":122},{"s":"AV","x":-1.63,"y":103},{"s":"AV","x":-1.4,"y":103},{"s":"AV","x":-1.34,"y":93},{"s":"AV","x":-1.07,"y":110},{"s":"AV","x":-0.87,"y":115,"lo":94,"hi":140},{"s":"AV","x":-0.87,"y":102},{"s":"AV","x":-0.63,"y":104},{"s":"AV","x":-0.45,"y":106,"lo":93,"hi":118},{"s":"AV","x":-0.34,"y":97.5},{"s":"AV","x":-0.1,"y":109,"lo":100,"hi":117},{"s":"AV","x":0.02,"y":102},{"s":"AV","x":0.28,"y":100},{"s":"AV","x":0.55,"y":84,"lo":57,"hi":108},{"s":"AV","x":0.82,"y":89,"lo":81,"hi":96}]},
    "encoding":{"x":{"field":"x","type":"quantitative","scale":{"domain":[-6,2],"nice":false},"axis":{"values":[-6,-4,-2,0,2],"title":"BVM, log μM"}},"y":{"field":"y","type":"quantitative","scale":{"domain":[0,140],"nice":false},"axis":{"values":[0,20,40,60,80,100,120,140],"title":"% maximal signal"}}},
    "layer":[
{"transform":[{"filter":"datum.s=='M2'"}],"mark":{"type":"line","color":"black","strokeWidth":1.2,"strokeDash":[4,3]},"encoding":{}},
{"transform":[{"filter":"datum.s=='M1'"}],"mark":{"type":"line","color":"black","strokeWidth":1.2,"strokeDash":[4,3]},"encoding":{}},
{"transform":[{"filter":"datum.s=='AV' && isValid(datum.lo)"}],"mark":{"type":"rule","color":"black","strokeWidth":1.5},"encoding":{"y":{"field":"lo","type":"quantitative","title":"% maximal signal"},"y2":{"field":"hi"}}},
{"transform":[{"filter":"datum.s=='AV' && isValid(datum.lo)"},{"fold":["lo","hi"],"as":["k","v"]}],"mark":{"type":"tick","orient":"horizontal","color":"black","size":8,"thickness":1.5,"opacity":1},"encoding":{"y":{"field":"v","type":"quantitative","title":"% maximal signal"}}},
{"transform":[{"filter":"datum.s=='M2'"}],"mark":{"type":"point","shape":"triangle-up","size":55,"filled":true,"color":"black","opacity":1},"encoding":{}},
{"transform":[{"filter":"datum.s=='M1'"}],"mark":{"type":"point","shape":"square","size":56,"filled":true,"fill":"white","stroke":"black","strokeWidth":1.5,"opacity":1},"encoding":{}},
{"transform":[{"filter":"datum.s=='AV'"}],"mark":{"type":"point","shape":"circle","size":80,"filled":true,"fill":"white","stroke":"black","strokeWidth":1.5,"opacity":1},"encoding":{}},
{"transform":[{"filter":"false"}],"mark":{"type":"point","filled":true,"stroke":"black","strokeWidth":1.5,"opacity":1},"encoding":{"shape":{"field":"s","type":"nominal","scale":{"domain":["Antiviral","Model 2a","Model 1"],"range":["M1,0A1,1,0,1,1,-1,0A1,1,0,1,1,1,0Z","M-1.9,0H-1.3M1.2,0H1.55M0,-0.85L0.95,0.75L-0.95,0.75Z","M-1.9,0H-1.3M1.2,0H1.55M-0.85,-0.85H0.85V0.85H-0.85Z"]},"legend":{"title":null,"orient":"none","legendX":35.8,"legendY":100,"symbolSize":81,"labelOffset":10,"rowPadding":3,"padding":0,"labelFontSize":12,"labelFont":"Liberation Sans","labelColor":"black"}},"fill":{"field":"s","type":"nominal","scale":{"domain":["Antiviral","Model 2a","Model 1"],"range":["white","black","white"]},"legend":{"title":null,"orient":"none","legendX":35.8,"legendY":100}}}}
    ]}
  ],"spacing":0,"resolve":{"scale":{"shape":"independent","fill":"independent"},"legend":{"shape":"independent","fill":"independent"}}}
 ],"spacing":17,"resolve":{"scale":{"shape":"independent","fill":"independent"},"legend":{"shape":"independent","fill":"independent"}}},
 {"hconcat":[
  {"width":3,"height":262,"data":{"values":[{}]},"mark":{"type":"text","text":"","fontSize":1},"encoding":{},"view":{"fill":"black","stroke":null}},
  {"hconcat":[
   {"hconcat":[
    {"width":30,"height":40,"data":{"values":[{}]},"mark":{"type":"text","text":"","fontSize":1},"encoding":{},"view":{"fill":"white","stroke":null}},
    {"vconcat":[{"width":1,"height":123,"data":{"values":[{}]},"mark":{"type":"text","text":"","fontSize":1},"encoding":{},"view":{"fill":"white","stroke":null}},
     {"width":279,"height":50,"data":{"values":[{"t":"n.d."}]},"mark":{"type":"text","fontSize":36,"color":"black","font":"Liberation Sans"},"encoding":{"text":{"field":"t"}},"view":{"fill":"white","stroke":null}}],"spacing":0}
   ],"spacing":29},
   {"hconcat":[
    {"width":3,"height":262,"data":{"values":[{}]},"mark":{"type":"text","text":"","fontSize":1},"encoding":{},"view":{"fill":"black","stroke":null}},
    {"hconcat":[
     {"vconcat":[{"width":1,"height":30,"data":{"values":[{}]},"mark":{"type":"text","text":"","fontSize":1},"encoding":{},"view":{"fill":"white","stroke":null}},{"width":30,"height":40,"data":{"values":[{"t":"K"}]},"mark":{"type":"text","fontSize":34,"fontWeight":"bold","color":"black","font":"Liberation Sans"},"encoding":{"text":{"field":"t"}},"view":{"fill":"white","stroke":null}}],"spacing":0},
     {"hconcat":[
      {"vconcat":[{"width":1,"height":17,"data":{"values":[{}]},"mark":{"type":"text","text":"","fontSize":1},"encoding":{},"view":{"fill":"white","stroke":null}},
       {"width":227,"height":152,"title":{"text":"ΔV370","frame":"group","fontSize":11,"fontWeight":"bold","font":"Liberation Sans","color":"black","offset":25},
        "data":{"values":[
{"s":"M1","x":-5.15,"y":100},{"s":"M1","x":-4.67,"y":100},{"s":"M1","x":-4.2,"y":99.7},{"s":"M1","x":-3.72,"y":99},{"s":"M1","x":-3.25,"y":98},{"s":"M1","x":-2.93,"y":96.6},{"s":"M1","x":-2.64,"y":94.5},{"s":"M1","x":-2.34,"y":88},{"s":"M1","x":-2.04,"y":79},{"s":"M1","x":-1.73,"y":64.4},{"s":"M1","x":-1.43,"y":47},{"s":"M1","x":-1.12,"y":31},{"s":"M1","x":-0.82,"y":18.6},{"s":"M1","x":-0.51,"y":10.8},{"s":"M1","x":-0.21,"y":6.2},{"s":"M1","x":0.09,"y":3.7},{"s":"M1","x":0.39,"y":2.2},{"s":"M1","x":0.8,"y":0.9},
{"s":"M2","x":-5.15,"y":100},{"s":"M2","x":-4.67,"y":100},{"s":"M2","x":-4.2,"y":99.5},{"s":"M2","x":-3.72,"y":99},{"s":"M2","x":-3.25,"y":98},{"s":"M2","x":-2.93,"y":96.5},{"s":"M2","x":-2.64,"y":94},{"s":"M2","x":-2.34,"y":88},{"s":"M2","x":-2.04,"y":79},{"s":"M2","x":-1.73,"y":65},{"s":"M2","x":-1.43,"y":50},{"s":"M2","x":-1.12,"y":36},{"s":"M2","x":-0.82,"y":26},{"s":"M2","x":-0.51,"y":19},{"s":"M2","x":-0.21,"y":14},{"s":"M2","x":0.09,"y":11},{"s":"M2","x":0.39,"y":9},{"s":"M2","x":0.8,"y":8},
{"s":"AV","x":-4.77,"y":96,"lo":90,"hi":101},{"s":"AV","x":-4.27,"y":103,"lo":95,"hi":110},{"s":"AV","x":-4.27,"y":90,"lo":82,"hi":100},{"s":"AV","x":-3.76,"y":90,"lo":68,"hi":108},{"s":"AV","x":-3.76,"y":100.6},{"s":"AV","x":-3.34,"y":111},{"s":"AV","x":-3.29,"y":93,"lo":76,"hi":110},{"s":"AV","x":-2.85,"y":100.6,"lo":92,"hi":114},{"s":"AV","x":-2.82,"y":89,"lo":62,"hi":114},{"s":"AV","x":-2.38,"y":102,"lo":88,"hi":112},{"s":"AV","x":-2.34,"y":93},{"s":"AV","x":-1.85,"y":105},{"s":"AV","x":-1.88,"y":89,"lo":80,"hi":97},{"s":"AV","x":-1.4,"y":32.5,"lo":12,"hi":48},{"s":"AV","x":-1.44,"y":23},{"s":"AV","x":-0.92,"y":10,"lo":5,"hi":14},{"s":"AV","x":-0.45,"y":14},{"s":"AV","x":-0.45,"y":6.2},{"s":"AV","x":0.02,"y":15.5},{"s":"AV","x":0.54,"y":3},
{"s":"fit","x":-4.77,"y":98},{"s":"fit","x":-3,"y":98},{"s":"fit","x":-2.4,"y":97},{"s":"fit","x":-2.1,"y":93},{"s":"fit","x":-1.95,"y":85},{"s":"fit","x":-1.8,"y":71},{"s":"fit","x":-1.7,"y":60},{"s":"fit","x":-1.6,"y":47},{"s":"fit","x":-1.5,"y":35},{"s":"fit","x":-1.4,"y":25},{"s":"fit","x":-1.25,"y":16},{"s":"fit","x":-1.1,"y":11},{"s":"fit","x":-0.8,"y":8.5},{"s":"fit","x":0,"y":7.5},{"s":"fit","x":0.54,"y":7.5}]},
        "encoding":{"x":{"field":"x","type":"quantitative","scale":{"domain":[-6,2],"nice":false},"axis":{"values":[-6,-4,-2,0,2],"title":"BMS-955176, log μM"}},"y":{"field":"y","type":"quantitative","scale":{"domain":[0,140],"nice":false},"axis":{"values":[0,20,40,60,80,100,120,140],"title":"% maximal signal"}}},
        "layer":[
{"transform":[{"filter":"datum.s=='fit'"}],"mark":{"type":"line","color":"black","strokeWidth":2,"interpolate":"monotone"},"encoding":{}},
{"transform":[{"filter":"datum.s=='M1'"}],"mark":{"type":"line","color":"black","strokeWidth":1.2,"strokeDash":[4,3]},"encoding":{}},
{"transform":[{"filter":"datum.s=='AV' && isValid(datum.lo)"}],"mark":{"type":"rule","color":"black","strokeWidth":1.5},"encoding":{"y":{"field":"lo","type":"quantitative","title":"% maximal signal"},"y2":{"field":"hi"}}},
{"transform":[{"filter":"datum.s=='AV' && isValid(datum.lo)"},{"fold":["lo","hi"],"as":["k","v"]}],"mark":{"type":"tick","orient":"horizontal","color":"black","size":8,"thickness":1.5,"opacity":1},"encoding":{"y":{"field":"v","type":"quantitative","title":"% maximal signal"}}},
{"transform":[{"filter":"datum.s=='M1'"}],"mark":{"type":"point","shape":"square","size":56,"filled":true,"fill":"white","stroke":"black","strokeWidth":1.5,"opacity":1},"encoding":{}},
{"transform":[{"filter":"datum.s=='M2'"}],"mark":{"type":"point","shape":"triangle-up","size":55,"filled":true,"color":"black","opacity":1},"encoding":{}},
{"transform":[{"filter":"datum.s=='AV'"}],"mark":{"type":"point","shape":"circle","size":80,"filled":true,"fill":"white","stroke":"black","strokeWidth":1.5,"opacity":1},"encoding":{}},
{"transform":[{"filter":"false"}],"mark":{"type":"point","filled":true,"stroke":"black","strokeWidth":1.5,"opacity":1},"encoding":{"shape":{"field":"s","type":"nominal","scale":{"domain":["Antiviral","Model 2a","Model 1"],"range":["M-1.9,0H-1M1,0H1.9M1,0A1,1,0,1,1,-1,0A1,1,0,1,1,1,0Z","M0,-0.85L0.95,0.75L-0.95,0.75Z","M-1.9,0H-1.3M1.2,0H1.55M-0.85,-0.85H0.85V0.85H-0.85Z"]},"legend":{"title":null,"orient":"none","legendX":23.1,"legendY":91.7,"symbolSize":81,"labelOffset":10,"rowPadding":3,"padding":0,"labelFontSize":12,"labelFont":"Liberation Sans","labelColor":"black"}},"fill":{"field":"s","type":"nominal","scale":{"domain":["Antiviral","Model 2a","Model 1"],"range":["white","black","white"]},"legend":{"title":null,"orient":"none","legendX":23.1,"legendY":91.7}}}}
        ]}
      ],"spacing":0,"resolve":{"scale":{"shape":"independent","fill":"independent"},"legend":{"shape":"independent","fill":"independent"}}},
      {"vconcat":[{"width":1,"height":121,"data":{"values":[{}]},"mark":{"type":"text","text":"","fontSize":1},"encoding":{},"view":{"fill":"white","stroke":null}},
       {"width":2,"height":50,"data":{"values":[{"t":"ΔV370"}]},"mark":{"type":"text","fontSize":39,"fontWeight":"bold","color":"black","align":"left","font":"Liberation Sans"},"encoding":{"text":{"field":"t"}},"view":{"fill":"white","stroke":null}}],"spacing":0}
     ],"spacing":0,"resolve":{"scale":{"shape":"independent","fill":"independent"},"legend":{"shape":"independent","fill":"independent"}}}
    ],"spacing":35,"resolve":{"scale":{"shape":"independent","fill":"independent"},"legend":{"shape":"independent","fill":"independent"}}}
   ],"spacing":14,"resolve":{"scale":{"shape":"independent","fill":"independent"},"legend":{"shape":"independent","fill":"independent"}}}
  ],"spacing":119,"resolve":{"scale":{"shape":"independent","fill":"independent"},"legend":{"shape":"independent","fill":"independent"}}}
 ],"spacing":25,"resolve":{"scale":{"shape":"independent","fill":"independent"},"legend":{"shape":"independent","fill":"independent"}}}
],"spacing":132,"resolve":{"scale":{"shape":"independent","fill":"independent"},"legend":{"shape":"independent","fill":"independent"}}}
]
}
